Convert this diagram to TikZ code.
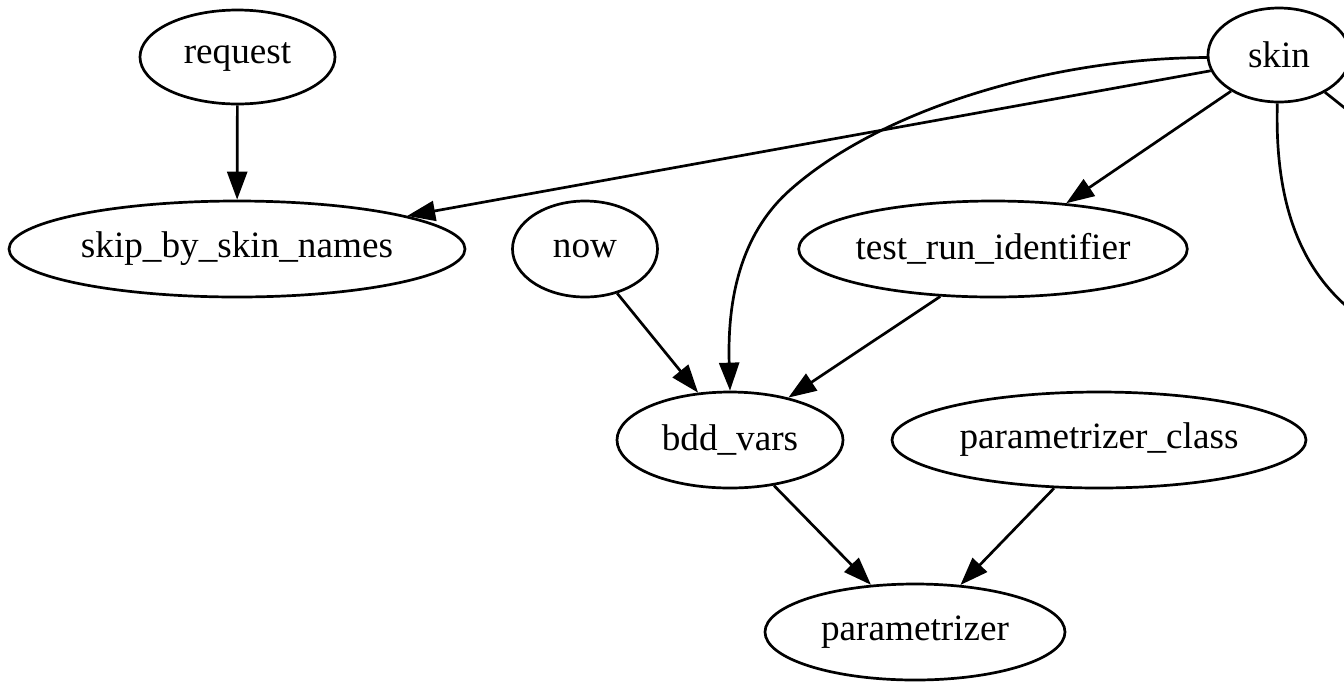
\documentclass[tikz,border=0pt]{standalone}
\usepackage{fontspec}
\setmainfont{Liberation Serif}
\usetikzlibrary{shapes.geometric,arrows.meta}
\begin{document}
\begin{tikzpicture}[x=0.5pt,y=-0.5pt,
  gnode/.style={draw,ellipse,line width=1.35pt,inner sep=0pt,
    font=\fontsize{18.6}{22}\selectfont},
  edge/.style={line width=1.35pt,-{Triangle[length=14pt,width=10pt]}},
  plain/.style={line width=1.35pt}]
\useasboundingbox (0,0) rectangle (1344,682);
\clip (0,0) rectangle (1344,682);
\node[gnode,minimum width=97.5pt,minimum height=47pt] (request) at (237.5,57) {request};
\node[gnode,minimum width=228pt,minimum height=48pt] (skip) at (237,249) {skip\_by\_skin\_names};
\node[gnode,minimum width=72.5pt,minimum height=48pt] (now) at (585,249) {now};
\node[gnode,minimum width=189pt,minimum height=48pt] (tri) at (993,249) {test\_run\_identifier};
\node[gnode,minimum width=113pt,minimum height=48pt] (bdd) at (730,440) {bdd\_vars};
\node[gnode,minimum width=207pt,minimum height=48pt] (pc) at (1099,440) {parametrizer\_class};
\node[gnode,minimum width=150pt,minimum height=48pt] (param) at (915,632) {parametrizer};
\node[gnode,minimum width=71pt,minimum height=47pt] (skin) at (1279,55) {skin};
\coordinate (offA) at (1400,152);
\coordinate (offB) at (1380,330);
\coordinate (mid) at (790,190);

\draw[edge] (request) -- (skip);
\draw[edge] (skin.193.8) -- (skip.11.6);
\draw[edge] (skin.217.8) -- (tri.32);
\draw[edge] (skin.182) .. controls (1050,58) and (880,110) .. (mid)
  .. controls (745,230) and (727,290) .. (bdd.north);
\draw[plain] (skin.-39.6) -- (offA);
\draw[plain] (skin.268) .. controls (1274,220) and (1310,290) .. (offB);
\draw[edge] (now.-54) -- (bdd.124);
\draw[edge] (tri.222) -- (bdd.36);
\draw[edge] (bdd.-46) -- (param.133.7);
\draw[edge] (pc.227.5) -- (param.46.3);
\end{tikzpicture}
\end{document}
